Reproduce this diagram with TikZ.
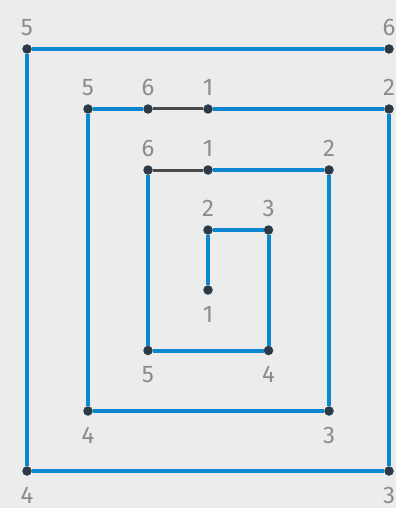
\documentclass[tikz,border=0pt]{standalone}
\usepackage{fontspec}
\setmainfont{Fira Sans}
\definecolor{bgc}{HTML}{ECECEC}
\definecolor{bluec}{HTML}{0A87CE}
\definecolor{dotc}{HTML}{2B3A47}
\definecolor{lblc}{HTML}{8C8C8C}
\definecolor{darkc}{HTML}{4A4A4A}
\begin{document}
\begin{tikzpicture}[x=1pt,y=-1pt,
  pt/.style={circle,fill=dotc,inner sep=0pt,minimum size=9.5pt},
  lbl/.style={text=lblc,inner sep=0pt,font=\fontsize{24}{24}\selectfont},
  up/.style={label={[lbl,label distance=8pt]above:#1}},
  dn/.style={label={[lbl,label distance=11pt]below:#1}},
  bl/.style={draw=bluec,line width=4pt},
  bk/.style={draw=darkc,line width=3pt}]
\useasboundingbox[fill=bgc] (0,0) rectangle (396,508);
% inner loop
\node[pt,dn=1] (i1) at (208,290) {};
\node[pt,up=2] (i2) at (208,230) {};
\node[pt,up=3] (i3) at (268.5,230) {};
\node[pt,dn=4] (i4) at (268.5,350.5) {};
\node[pt,dn=5] (i5) at (148,350.5) {};
\node[pt,up=6] (i6) at (148,170) {};
% middle loop
\node[pt,up=1] (m1) at (208,170) {};
\node[pt,up=2] (m2) at (329,170) {};
\node[pt,dn=3] (m3) at (329,411) {};
\node[pt,dn=4] (m4) at (88,411) {};
\node[pt,up=5] (m5) at (88,109) {};
\node[pt,up=6] (m6) at (148,109) {};
% outer loop
\node[pt,up=1] (o1) at (208,109) {};
\node[pt,up=2] (o2) at (389,109) {};
\node[pt,dn=3] (o3) at (389,471) {};
\node[pt,dn=4] (o4) at (27,471) {};
\node[pt,up=5] (o5) at (27,49) {};
\node[pt,up=6] (o6) at (389,49) {};
% connectors
\draw[bl] (i1) -- (i2);
\draw[bl] (i2) -- (i3);
\draw[bl] (i3) -- (i4);
\draw[bl] (i4) -- (i5);
\draw[bl] (i5) -- (i6);
\draw[bk] (i6) -- (m1);
\draw[bl] (m1) -- (m2);
\draw[bl] (m2) -- (m3);
\draw[bl] (m3) -- (m4);
\draw[bl] (m4) -- (m5);
\draw[bl] (m5) -- (m6);
\draw[bk] (m6) -- (o1);
\draw[bl] (o1) -- (o2);
\draw[bl] (o2) -- (o3);
\draw[bl] (o3) -- (o4);
\draw[bl] (o4) -- (o5);
\draw[bl] (o5) -- (o6);
\end{tikzpicture}
\end{document}
